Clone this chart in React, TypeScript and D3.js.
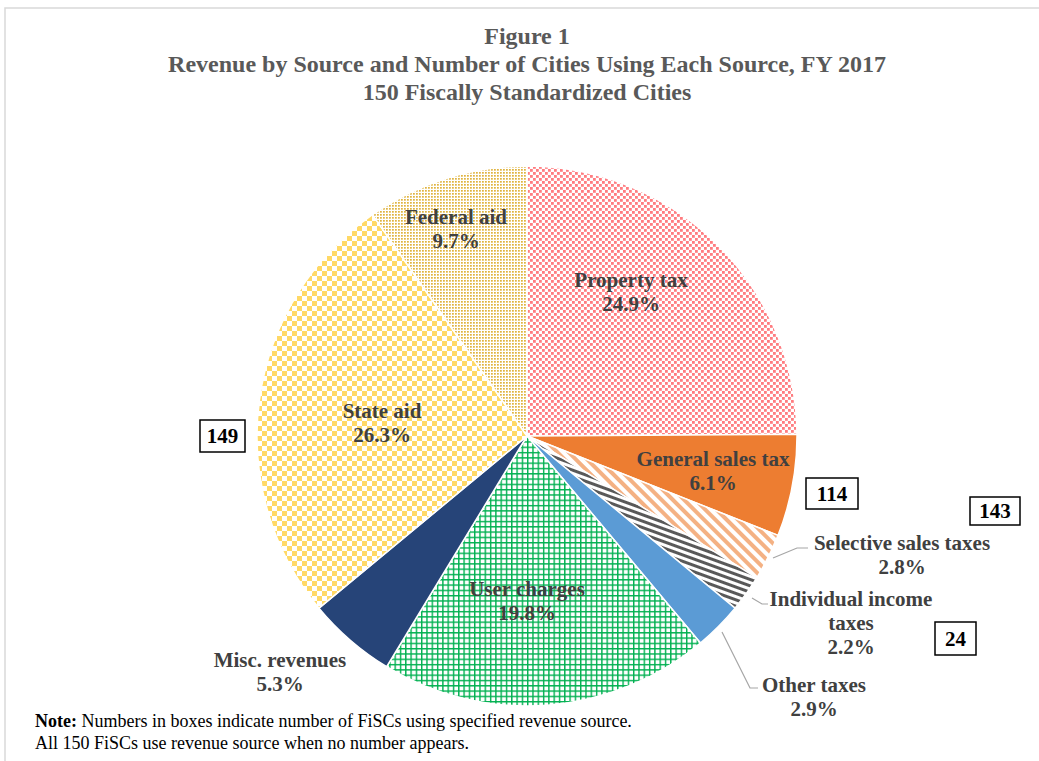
import React from "react";
import * as d3 from "d3";

const categories = [
  "Property tax",
  "General sales tax",
  "Selective sales taxes",
  "Individual income taxes",
  "Other taxes",
  "User charges",
  "Misc. revenues",
  "State aid",
  "Federal aid",
];
const shares = [24.9, 6.1, 2.8, 2.2, 2.9, 19.8, 5.3, 26.3, 9.7];
const fills = [
  "url(#pProp)",
  "#ED7D31",
  "url(#pSel)",
  "url(#pInc)",
  "#5B9BD5",
  "url(#pUser)",
  "#264478",
  "url(#pState)",
  "url(#pFed)",
];
const labelLines: string[][] = [
  ["Property tax"],
  ["General sales tax"],
  ["Selective sales taxes"],
  ["Individual income", "taxes"],
  ["Other taxes"],
  ["User charges"],
  ["Misc. revenues"],
  ["State aid"],
  ["Federal aid"],
];
const boxes = [
  { text: "149", x: 200, y: 420, w: 45, h: 32 },
  { text: "114", x: 806, y: 478, w: 52, h: 31 },
  { text: "143", x: 970, y: 497, w: 50, h: 28 },
  { text: "24", x: 935, y: 622, w: 41, h: 33 },
];
// label anchor positions (layout)
const labelPos = [
  [631, 287],
  [713, 466],
  [902, 550],
  [851, 606],
  [814, 692],
  [527, 596],
  [280, 667],
  [382, 418],
  [456, 224],
];
// leader lines (layout)
const leaders: [number, number][][] = [
  [],
  [],
  [[773, 558], [797, 548], [808, 548]],
  [[752, 598], [762, 604], [768, 604]],
  [[722, 632], [750, 688], [758, 688]],
  [],
  [],
  [],
  [],
];

const cx = 527;
const cy = 436;
const R = 270;

export default function App() {
  const pie = d3.pie<number>().sort(null).value((d) => d);
  const arcs = pie(shares);
  const arc = d3.arc<d3.PieArcDatum<number>>().innerRadius(0).outerRadius(R);
  const lab = "#404040";
  const serif = "'Liberation Serif', 'Times New Roman', serif";
  return (
    <svg width={1039} height={761} style={{ position: "absolute", left: 0, top: 0 }}>
      <defs>
        <pattern id="pProp" width={6} height={6} patternUnits="userSpaceOnUse">
          <rect x={0} y={0} width={2.8} height={2.8} fill="#FF7C80" />
          <rect x={3} y={3} width={2.8} height={2.8} fill="#FF7C80" />
        </pattern>
        <pattern id="pFed" width={3} height={3} patternUnits="userSpaceOnUse">
          <rect x={0} y={0} width={1.8} height={1.7} fill="#E0B440" />
        </pattern>
        <pattern id="pState" width={10} height={10} patternUnits="userSpaceOnUse">
          <rect width={10} height={10} fill="#FFFFFF" />
          <rect x={0} y={0} width={5} height={5} fill="#FFD966" />
          <rect x={5} y={5} width={5} height={5} fill="#FFD966" />
        </pattern>
        <pattern id="pUser" width={5.3} height={5.3} patternUnits="userSpaceOnUse">
          <rect width={5.3} height={5.3} fill="#FFFFFF" />
          <rect x={0} y={0} width={1.4} height={5.3} fill="#00B050" />
          <rect x={0} y={0} width={5.3} height={1.4} fill="#00B050" />
        </pattern>
        <pattern id="pSel" width={8} height={8} patternUnits="userSpaceOnUse" patternTransform="rotate(-45)">
          <rect width={8} height={8} fill="#FFFFFF" />
          <rect x={0} y={0} width={4} height={8} fill="#F4B183" />
        </pattern>
        <pattern id="pInc" width={6} height={6} patternUnits="userSpaceOnUse" patternTransform="rotate(-70)">
          <rect width={6} height={6} fill="#FFFFFF" />
          <rect x={0} y={0} width={3} height={6} fill="#595959" />
        </pattern>
      </defs>
      <rect x={5} y={8} width={1100} height={800} fill="#FFFFFF" stroke="#D9D9D9" strokeWidth={1.5} />
      <g fontFamily={serif} fontWeight="bold" fill="#595959" textAnchor="middle" fontSize={24}>
        <text x={527} y={44}>Figure 1</text>
        <text x={527} y={72}>Revenue by Source and Number of Cities Using Each Source, FY 2017</text>
        <text x={527} y={100}>150 Fiscally Standardized Cities</text>
      </g>
      <g transform={`translate(${cx},${cy})`}>
        {arcs.map((a, i) => (
          <path key={categories[i]} d={arc(a) || ""} fill={fills[i]} stroke="#FFFFFF" strokeWidth={1.5} />
        ))}
      </g>
      {leaders.map((pts, i) =>
        pts.length ? (
          <polyline key={"l" + i} points={pts.map((p) => p.join(",")).join(" ")} fill="none" stroke="#A6A6A6" strokeWidth={1.2} />
        ) : null
      )}
      <g fontFamily={serif} fontWeight="bold" fill={lab} textAnchor="middle" fontSize={21}>
        {arcs.map((a, i) => {
          const [x, y] = labelPos[i];
          const lines = [...labelLines[i], d3.format(".1f")(shares[i]) + "%"];
          return (
            <text key={"t" + i} x={x} y={y}>
              {lines.map((ln, j) => (
                <tspan key={j} x={x} dy={j === 0 ? 0 : 24}>{ln}</tspan>
              ))}
            </text>
          );
        })}
      </g>
      {boxes.map((b) => (
        <g key={b.text}>
          <rect x={b.x} y={b.y} width={b.w} height={b.h} fill="#FFFFFF" stroke="#000000" strokeWidth={1.5} />
          <text x={b.x + b.w / 2} y={b.y + b.h / 2 + 7} textAnchor="middle" fontFamily={serif} fontWeight="bold" fontSize={21} fill="#000000">
            {b.text}
          </text>
        </g>
      ))}
      <g fontFamily={serif} fontSize={18} fill="#000000">
        <text x={35} y={727}>
          <tspan fontWeight="bold">Note:</tspan> Numbers in boxes indicate number of FiSCs using specified revenue source.
        </text>
        <text x={35} y={749}>All 150 FiSCs use revenue source when no number appears.</text>
      </g>
    </svg>
  );
}
